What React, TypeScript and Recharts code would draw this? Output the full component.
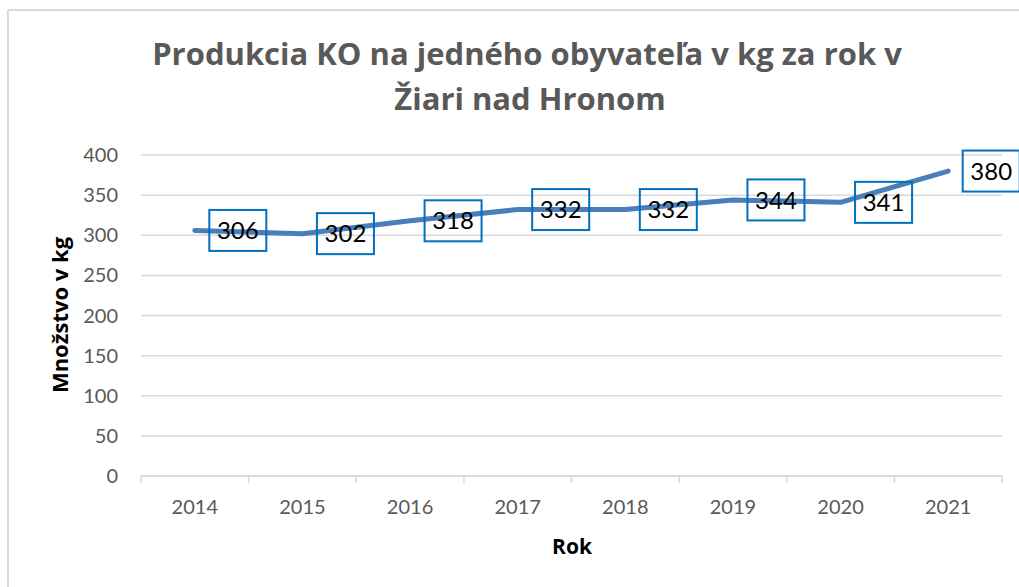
import React from 'react';
import { LineChart, Line, XAxis, YAxis, CartesianGrid, LabelList } from 'recharts';

const years = ['2014', '2015', '2016', '2017', '2018', '2019', '2020', '2021'];
const values = [306, 302, 318, 332, 332, 344, 341, 380];
const yTicks = [0, 50, 100, 150, 200, 250, 300, 350, 400];
const titleLines = ['Produkcia KO na jedného obyvateľa v kg za rok v', 'Žiari nad Hronom'];
const xTitle = 'Rok';
const yTitle = 'Množstvo v kg';

const data = years.map((y, i) => ({ year: y, value: values[i] }));

const FONT = 'Lato, "Open Sans", sans-serif';
const BOLD_FONT = '"Open Sans", Lato, sans-serif';
const GRID = '#D9D9D9';
const TEXT_GRAY = '#595959';

const XTick = (props: any) => {
  const { x, y, payload, index, visibleTicksCount } = props;
  const off = payload && typeof payload.offset === 'number' ? payload.offset : 0;
  const last = index === (visibleTicksCount ?? years.length) - 1;
  return (
    <g>
      <line x1={x - off} x2={x - off} y1={y} y2={y + 7} stroke={GRID} strokeWidth={1.5} />
      {last && <line x1={x + off} x2={x + off} y1={y} y2={y + 7} stroke={GRID} strokeWidth={1.5} />}
      <text x={x} y={y + 38} textAnchor="middle" fontSize={20} fontFamily={FONT} fill={TEXT_GRAY}>
        {payload.value}
      </text>
    </g>
  );
};

const DataLabel = (props: any) => {
  const { x, y, value } = props;
  if (x == null || y == null) return null;
  return (
    <g>
      <rect x={x + 14.5} y={y - 20.5} width={57} height={41} fill="none" stroke="#0070C0" strokeWidth={2} />
      <text x={x + 43} y={y + 8.6} textAnchor="middle" fontSize={24} fontFamily={FONT} fill="#000">
        {value}
      </text>
    </g>
  );
};

export default function App() {
  return (
    <div style={{ position: 'absolute', left: 0, top: 0, width: 1019, height: 587, overflow: 'hidden', background: '#fff' }}>
      <LineChart width={1019} height={587} data={data} margin={{ top: 155, right: 17, bottom: 71, left: 81 }}>
        <CartesianGrid horizontal={true} vertical={false} stroke={GRID} strokeWidth={1.5} />
        <XAxis
          dataKey="year"
          scale="band"
          height={40}
          axisLine={{ stroke: GRID, strokeWidth: 1.5 }}
          tickLine={false}
          tickSize={0}
          tickMargin={0}
          tick={<XTick />}
          interval={0}
        />
        <YAxis
          width={60}
          domain={[0, 400]}
          ticks={yTicks}
          axisLine={false}
          tickLine={false}
          tickSize={0}
          tickMargin={23}
          tick={{ fontSize: 20, fontFamily: FONT, fill: TEXT_GRAY }}
        />
        <Line
          type="linear"
          dataKey="value"
          stroke="#4A7EBB"
          strokeWidth={5}
          strokeLinecap="round"
          strokeLinejoin="round"
          dot={false}
          activeDot={false}
          isAnimationActive={false}
        >
          <LabelList dataKey="value" content={<DataLabel />} />
        </Line>
      </LineChart>
      <svg width={1019} height={587} style={{ position: 'absolute', left: 0, top: 0, pointerEvents: 'none' }}>
        <line x1={8} y1={10} x2={1019} y2={10} stroke={GRID} strokeWidth={2} />
        <line x1={8} y1={10} x2={8} y2={587} stroke={GRID} strokeWidth={2} />
        <text x={527} y={65} textAnchor="middle" fontSize={31} fontWeight="bold" fontFamily={BOLD_FONT} fill={TEXT_GRAY}>
          {titleLines[0]}
        </text>
        <text x={530} y={110} textAnchor="middle" fontSize={31} fontWeight="bold" fontFamily={BOLD_FONT} fill={TEXT_GRAY}>
          {titleLines[1]}
        </text>
        <text x={572} y={554} textAnchor="middle" fontSize={21} fontWeight="bold" fontFamily={BOLD_FONT} fill="#000">
          {xTitle}
        </text>
        <text
          x={0}
          y={0}
          transform="translate(68 315) rotate(-90)"
          textAnchor="middle"
          fontSize={22}
          fontWeight="bold"
          fontFamily={BOLD_FONT}
          fill="#000"
        >
          {yTitle}
        </text>
      </svg>
    </div>
  );
}
